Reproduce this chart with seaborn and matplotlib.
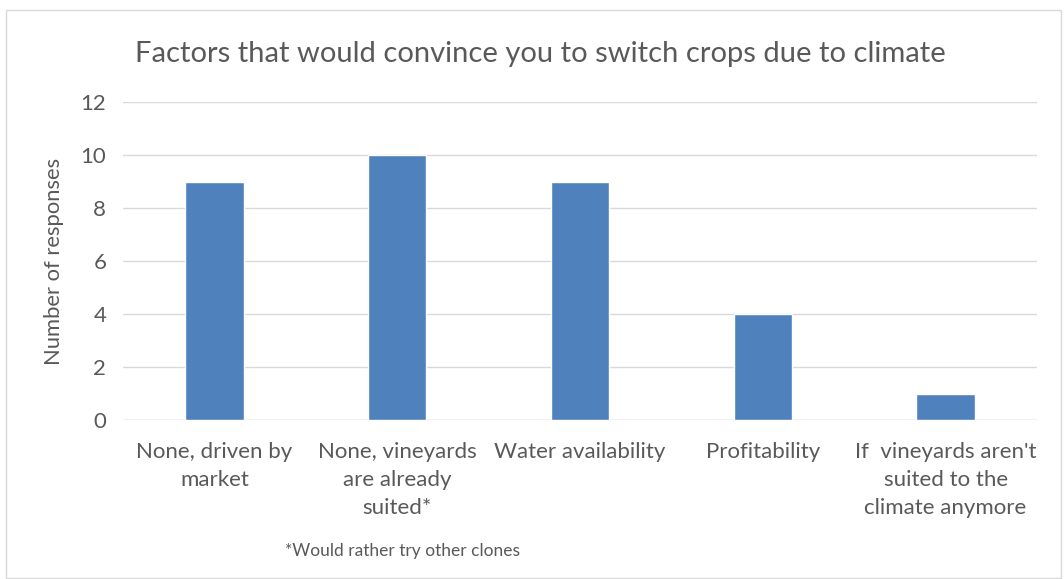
import matplotlib
matplotlib.use("Agg")
import matplotlib.pyplot as plt
import seaborn as sns
import pandas as pd
from matplotlib.patches import Rectangle

categories = [
    "None, driven by\nmarket",
    "None, vineyards\nare already\nsuited*",
    "Water availability",
    "Profitability",
    "If  vineyards aren't\nsuited to the\nclimate anymore",
]
responses = [9, 10, 9, 4, 1]
yticks = [0, 2, 4, 6, 8, 10, 12]

title = "Factors that would convince you to switch crops due to climate"
ylabel = "Number of responses"
footnote = "*Would rather try other clones"

sns.set_theme(style="white")
plt.rcParams["font.family"] = ["Lato", "DejaVu Sans"]
txt = "#595959"

df = pd.DataFrame({"cat": categories, "val": responses})

fig = plt.figure(figsize=(10.64, 5.79), dpi=100)
ax = fig.add_axes([0.1156, 0.2746, 0.859, 0.5492])

sns.barplot(data=df, x="cat", y="val", color="#4F81BD", width=0.32,
            saturation=1, ax=ax, zorder=3)

ax.set_ylim(0, 12)
ax.set_xlim(-0.5, 4.5)
ax.set_yticks(yticks)
ax.yaxis.grid(True, color="#D9D9D9", linewidth=1, zorder=0)
ax.xaxis.grid(False)
for s in ax.spines.values():
    s.set_visible(False)
ax.axhline(0, color="#D9D9D9", linewidth=1, zorder=1)
ax.tick_params(axis="both", length=0, labelsize=16, colors=txt)
ax.tick_params(axis="y", pad=12)
ax.tick_params(axis="x", pad=16)
ax.set_xlabel("")
ax.set_ylabel(ylabel, fontsize=15.8, color=txt, labelpad=12)
for lab in ax.get_xticklabels():
    lab.set_linespacing(1.5)

fig.text(0.508, 0.907, title, ha="center", va="center", fontsize=21, color=txt)
fig.text(0.378, 0.048, footnote, ha="center", va="center", fontsize=12.5, color=txt)

fig.patches.append(Rectangle((6/1064, 0.002), 1055/1064, 1 - 10/579 - 0.002,
                             transform=fig.transFigure, fill=False,
                             edgecolor="#D9D9D9", linewidth=1))

fig.savefig("out.png", dpi=100)
